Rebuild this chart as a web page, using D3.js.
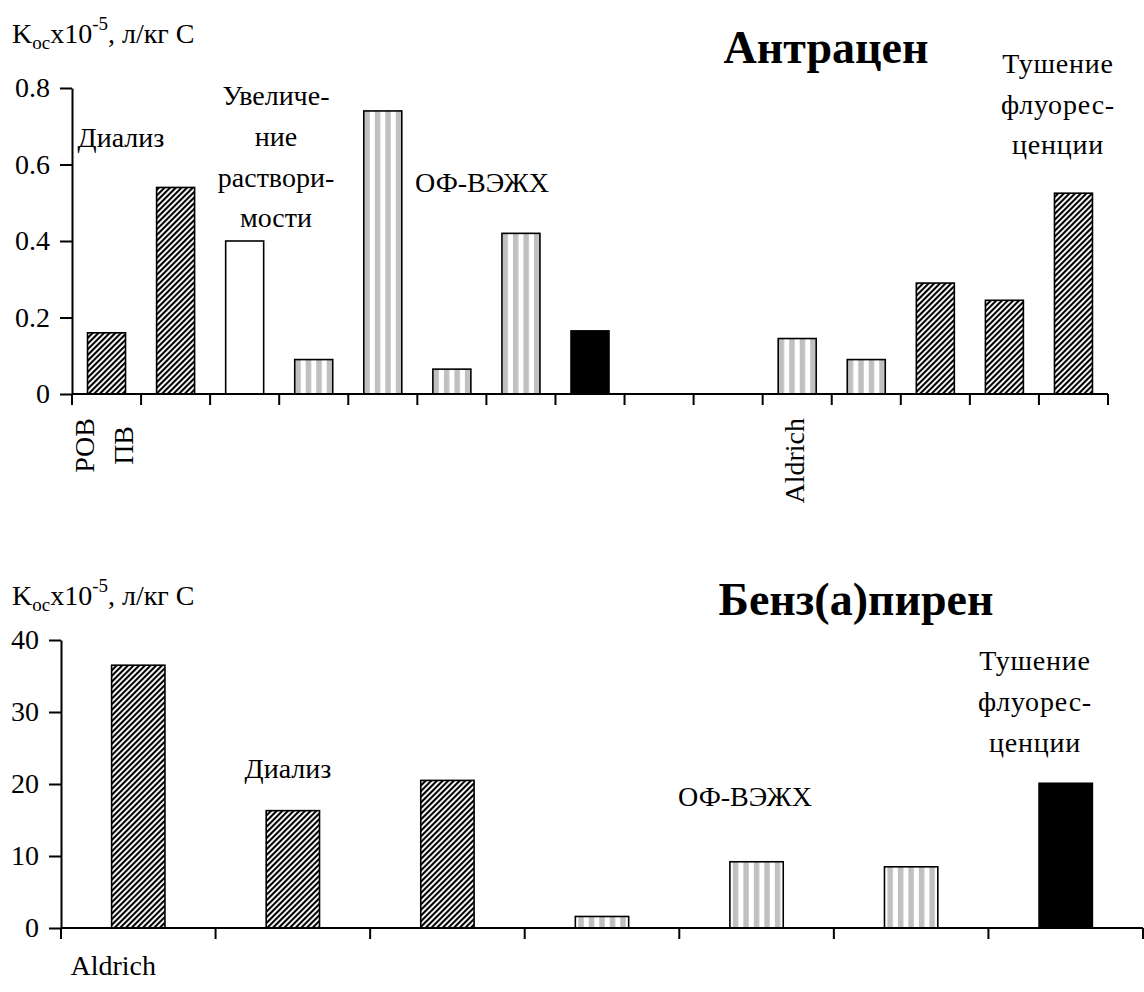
<!DOCTYPE html>
<html><head><meta charset="utf-8">
<script src="https://cdn.jsdelivr.net/npm/d3@7"></script>
<style>
body{margin:0;background:#fff}
svg{display:block}
svg text{font-family:"Liberation Serif","Times New Roman",Tinos,Times,serif;fill:#000}
</style>
</head><body>
<svg id="c" width="1144" height="992"></svg>
<script>
// ---------- DATA ----------
const topCategories = ["РОВ|ПВ","","","","","","","","","","Aldrich","","","",""];
const topValues = [0.16,0.54,0.40,0.09,0.74,0.065,0.42,0.165,null,null,0.145,0.09,0.29,0.245,0.525];
const topFills = ["hatch","hatch","white","gray","gray","gray","gray","black",null,null,"gray","gray","hatch","hatch","hatch"];
const topTicks = [0,0.2,0.4,0.6,0.8];
const topTickLabels = ["0","0.2","0.4","0.6","0.8"];
const topTitle = "Антрацен";
const topNotes = [["Диализ"],["Увеличе-","ние","раствори-","мости"],["ОФ-ВЭЖХ"],["Тушение","флуорес-","ценции"]];

const bottomCategories = ["Aldrich","","","","","",""];
const bottomValues = [36.5,16.3,20.5,1.6,9.2,8.5,20.1];
const bottomFills = ["hatch","hatch","hatch","gray","gray","gray","black"];
const bottomTicks = [0,10,20,30,40];
const bottomTickLabels = ["0","10","20","30","40"];
const bottomTitle = "Бенз(а)пирен";
const bottomNotes = [["Диализ"],["ОФ-ВЭЖХ"],["Тушение","флуорес-","ценции"]];

// ---------- DRAW ----------
const FONT = "'Liberation Serif','Times New Roman',Tinos,Times,serif";
const svg = d3.select("#c");
svg.append("rect").attr("width",1144).attr("height",992).attr("fill","#fff");
const defs = svg.append("defs");
const hp = defs.append("pattern").attr("id","hatch").attr("patternUnits","userSpaceOnUse")
  .attr("width",4).attr("height",4).attr("patternTransform","rotate(45)");
hp.append("rect").attr("width",4).attr("height",4).attr("fill","#fff");
hp.append("rect").attr("width",2.1).attr("height",4).attr("fill","#000");

let patId = 0;
function grayPattern(x, w){
  const id = "gp"+(patId++);
  const period = 10.5, gw = 5.5;
  const n = Math.max(1, Math.floor((w - gw)/period) + 1);
  const span = (n-1)*period + gw;
  const off = x + (w - span)/2;
  const p = defs.append("pattern").attr("id",id).attr("patternUnits","userSpaceOnUse")
    .attr("width",period).attr("height",10).attr("patternTransform",`translate(${off},0)`);
  p.append("rect").attr("width",period).attr("height",10).attr("fill","#fff");
  p.append("rect").attr("width",gw).attr("height",10).attr("fill","#c0c0c0");
  return `url(#${id})`;
}
function fillFor(kind, x, w){
  if(kind==="hatch") return "url(#hatch)";
  if(kind==="black") return "#000";
  if(kind==="white") return "#fff";
  return grayPattern(x,w);
}
function txt(g){ return g.append("text").style("font-family",FONT); }

function axisTitle(g, x, y){
  const t = txt(g).attr("x",x).attr("y",y).style("font-size","28px");
  t.append("tspan").text("K");
  t.append("tspan").attr("dy",6).style("font-size","19px").text("oc");
  t.append("tspan").attr("dy",-6).text("x10");
  t.append("tspan").attr("dy",-13).style("font-size","19px").text("-5");
  t.append("tspan").attr("dy",13).text(", л/кг С");
}

function drawChart(cfg){
  const g = svg.append("g");
  const x = d3.scaleBand().domain(cfg.cats.map((d,i)=>i)).range([cfg.x0,cfg.x1]).paddingInner(0).paddingOuter(0);
  const y = d3.scaleLinear().domain([0,cfg.ymax]).range([cfg.yb,cfg.yt]);
  const bw = x.bandwidth()*cfg.barRatio;
  cfg.vals.forEach((v,i)=>{
    if(v==null) return;
    const bx = x(i) + (x.bandwidth()-bw)/2;
    g.append("rect").attr("x",bx).attr("y",y(v)).attr("width",bw).attr("height",y(0)-y(v))
      .attr("fill",fillFor(cfg.fills[i],bx,bw)).attr("stroke","#000").attr("stroke-width",1.6);
  });
  const ya = g.append("g").attr("transform",`translate(${cfg.x0},0)`)
    .call(d3.axisLeft(y).tickValues(cfg.ticks).tickFormat((d,i)=>cfg.tickLabels[i]).tickSize(12).tickSizeOuter(0).tickPadding(10));
  ya.attr("font-family",null).attr("font-size",null);
  ya.selectAll("path,line").attr("stroke","#000").attr("stroke-width",2);
  ya.selectAll("text").style("font-size","28px").style("font-family",FONT).attr("fill","#000");
  g.append("line").attr("x1",cfg.x0).attr("x2",cfg.x1).attr("y1",y(0)).attr("y2",y(0)).attr("stroke","#000").attr("stroke-width",2);
  const bounds = cfg.cats.map((d,i)=>x(i)).concat([cfg.x1]);
  g.selectAll(".xt").data(bounds).enter().append("line")
    .attr("x1",d=>d).attr("x2",d=>d).attr("y1",y(0)).attr("y2",y(0)+11).attr("stroke","#000").attr("stroke-width",2);
  return {g,x,y};
}
function note(g, lines, cx, baselines, ls){
  lines.forEach((l,k)=>{
    txt(g).attr("x",cx).attr("y",baselines[k]).attr("text-anchor","middle")
      .style("font-size","28px").style("letter-spacing",(ls||0)+"px").text(l);
  });
}

// ---- top chart
const T = drawChart({cats:topCategories, vals:topValues, fills:topFills, ticks:topTicks, tickLabels:topTickLabels,
  ymax:0.8, x0:72, x1:1108, yb:394, yt:88, barRatio:0.55});
axisTitle(T.g, 12, 43);
topCategories.forEach((c,i)=>{
  if(!c) return;
  const lines = c.split("|");
  const cx = T.x(i) + T.x.bandwidth()/2;
  const gap = 39;
  const tmp = lines.map(l=>{
    const t = txt(T.g).style("font-size","28px").text(l);
    return {t, len:t.node().getComputedTextLength()};
  });
  const maxLen = d3.max(tmp,d=>d.len);
  const top = T.y(0)+24;
  tmp.forEach((o,k)=>{
    const bx = cx + (k-(lines.length-1)/2)*gap + 7;
    const my = top + maxLen/2;
    o.t.attr("text-anchor","middle").attr("transform",`translate(${bx},${my}) rotate(-90)`);
  });
});
txt(T.g).attr("x",826).attr("y",63).attr("text-anchor","middle")
  .style("font-size","46px").style("font-weight","bold").text(topTitle);
note(T.g, topNotes[0], 121, [147]);
note(T.g, topNotes[1], 276, [105,146,187,227]);
note(T.g, topNotes[2], 482, [192]);
note(T.g, topNotes[3], 1058, [73,114,154], 0.8);

// ---- bottom chart
const B = drawChart({cats:bottomCategories, vals:bottomValues, fills:bottomFills, ticks:bottomTicks, tickLabels:bottomTickLabels,
  ymax:40, x0:61, x1:1143, yb:928, yt:640, barRatio:0.345});
axisTitle(B.g, 12, 605);
bottomCategories.forEach((c,i)=>{
  if(!c) return;
  txt(B.g).attr("x",B.x(i)+B.x.bandwidth()/2 - 25).attr("y",975).attr("text-anchor","middle")
    .style("font-size","28px").text(c);
});
txt(B.g).attr("x",856).attr("y",615).attr("text-anchor","middle")
  .style("font-size","46px").style("font-weight","bold").text(bottomTitle);
note(B.g, bottomNotes[0], 288, [778]);
note(B.g, bottomNotes[1], 745, [806]);
note(B.g, bottomNotes[2], 1035, [670,711,752], 0.8);
</script>
</body></html>
